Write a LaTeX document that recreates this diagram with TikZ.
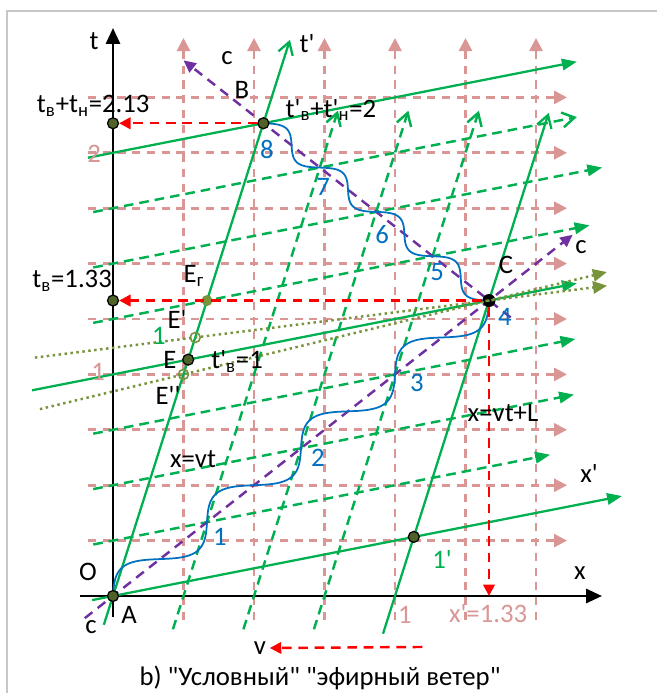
\documentclass[tikz,border=0pt]{standalone}
\usepackage{fontspec}
\newfontfamily\calibri{Carlito}
\usepackage{tikz}
\usetikzlibrary{arrows.meta,calc}
\definecolor{gridPink}{HTML}{D99694}
\definecolor{frameGreen}{HTML}{00B050}
\definecolor{rayPurple}{HTML}{7030A0}
\definecolor{waveBlue}{HTML}{0070C0}
\definecolor{oliveGreen}{HTML}{77933C}
\definecolor{darkOlive}{HTML}{4F6228}
\definecolor{frameGray}{HTML}{C8C8C8}
\tikzstyle{outerframe} = [frameGray, line width=1.1pt]
\tikzstyle{axisline} = [black, line width=1.4pt, -{Triangle[length=9pt,width=8pt]}]
\tikzstyle{gridline} = [gridPink, line width=1.5pt, dash pattern=on 4.6pt off 3.8pt, -{Triangle[length=7.4pt,width=7.4pt]}]
\tikzstyle{solidgreen} = [frameGreen, line width=1.3pt]
\tikzstyle{dashgreen} = [frameGreen, line width=1.4pt, dash pattern=on 5.5pt off 3.4pt]
\tikzstyle{fillhead} = [-{Triangle[length=8.5pt,width=6.5pt]}]
\tikzstyle{openhead} = [-{Straight Barb[length=7pt,width=8.5pt]}]
\tikzstyle{lightray} = [rayPurple, line width=1.4pt, dash pattern=on 5.5pt off 3.8pt, -{Triangle[length=7pt,width=6.5pt]}]
\tikzstyle{photonpath} = [waveBlue, line width=1pt]
\tikzstyle{redarrow} = [red, line width=1.4pt, dash pattern=on 5.5pt off 3.8pt, -{Triangle[length=6.5pt,width=6.5pt]}]
\tikzstyle{sightline} = [oliveGreen, line width=1.4pt, dash pattern=on 1.4pt off 2pt, -{Triangle[length=8pt,width=7pt]}]
\tikzstyle{eventdot} = [circle, minimum size=0.22cm, inner sep=0pt, draw=black, line width=0.7pt, fill=darkOlive]
\tikzstyle{hollowdot} = [circle, minimum size=0.2cm, inner sep=0pt, draw=oliveGreen, line width=0.9pt]
\tikzstyle{olivedot} = [circle, minimum size=0.22cm, inner sep=0pt, fill=oliveGreen]
\tikzstyle{pinklabel} = [text=gridPink]
\tikzstyle{greenlabel} = [text=frameGreen]
\tikzstyle{bluelabel} = [text=waveBlue]

\begin{document}
\begin{tikzpicture}[x=5.64cm, y=4.432cm, every node/.style={font=\calibri\fontsize{15.2}{17}\selectfont, inner sep=0pt}]
\useasboundingbox (-0.4007,-0.4377) rectangle (1.9291,2.6895);
\draw [outerframe] (-0.376,-0.5) -- (-0.376,2.64) -- (2,2.64);

\foreach \gx in {0.25,0.5,...,1.5} \draw [gridline] (\gx,-0.108) -- (\gx,2.518);
\foreach \gt in {0.25,0.5,...,2.25} \draw [gridline] (-0.089,\gt) -- (1.61,\gt);

\draw [axisline] (0,-0.095) -- (0,2.563);
\draw [axisline] (-0.117,0) -- (1.734,0);

\foreach \k/\xe in {0.25/1.55, 0.5/1.635, 0.75/1.64, 1.25/1.69, 1.5/1.735}
  \draw [dashgreen, fillhead] (-0.07,{\k-0.0175}) -- (\xe,{\k+0.25*\xe});
\draw [dashgreen, openhead] (-0.07,1.7325) -- (1.645,2.16125);
\foreach \m in {0.25,0.5,0.75}
  \draw [dashgreen, openhead] ({\m-0.0375},-0.15) -- ({\m+0.5475},2.19);

\coordinate (tPrimeStart) at (-0.0325,-0.13);
\coordinate (tPrimeEnd) at (0.6275,2.51);
\coordinate (xPrimeStart) at (-0.074,-0.0185);
\coordinate (xPrimeEnd) at (1.805,0.451);
\coordinate (lineOneStart) at (-0.287,0.92825);
\coordinate (lineOneEnd) at (1.645,1.41125);
\coordinate (lineTwoStart) at (-0.089,1.97775);
\coordinate (lineTwoEnd) at (1.645,2.41125);
\coordinate (lineLStart) at (0.9575,-0.17);
\coordinate (lineLEnd) at (1.545,2.18);
\draw [solidgreen, openhead] (tPrimeStart) -- (tPrimeEnd);
\draw [solidgreen, fillhead] (xPrimeStart) -- (xPrimeEnd);
\draw [solidgreen, fillhead] (lineOneStart) -- (lineOneEnd);
\draw [solidgreen, fillhead] (lineTwoStart) -- (lineTwoEnd);
\draw [solidgreen, openhead] (lineLStart) -- (lineLEnd);

\coordinate (rayStart) at (-0.1,-0.1);
\coordinate (rayEnd) at (1.63,1.63);
\coordinate (backStart) at (1.41,1.257);
\coordinate (backEnd) at (0.25,2.417);
\draw [lightray] (rayStart) -- (rayEnd);
\draw [lightray] (backStart) -- (backEnd);

\draw [photonpath] plot [domain=0:1.3333, samples=240, variable=\s] ({\s-0.048*sin(1080*\s)}, {\s+0.048*sin(1080*\s)});
\draw [photonpath] plot [domain=0:0.8, samples=160, variable=\s] ({1.3333-\s-0.029*sin(1800*\s)}, {1.3333+\s-0.029*sin(1800*\s)});

\node (pointA) [eventdot] at (0,0) {};
\node (pointB) [eventdot] at (0.5333,2.1333) {};
\node (pointC) [circle, fill=black, minimum size=0.26cm, inner sep=0pt] at (1.3333,1.3333) {};
\node (pointE) [eventdot] at (0.2667,1.0667) {};
\node (pointEp) [hollowdot] at (0.2917,1.1667) {};
\node (pointEpp) [hollowdot] at (0.25,1) {};
\node (pointEr) [olivedot] at (0.3333,1.3333) {};
\node (pointOneX) [eventdot] at (1.0667,0.2667) {};
\node (dotTbTh) [eventdot] at (0,2.1333) {};
\node (dotTb) [eventdot] at (0,1.3333) {};
\coordinate (footC) at (1.3333,0);

\draw [sightline] ($(pointEp)!-0.546!(pointC)$) -- ($(pointEp)!1.402!(pointC)$);
\draw [sightline] ($(pointEpp)!-0.47!(pointC)$) -- ($(pointEpp)!1.386!(pointC)$);

\draw [redarrow] (pointB) -- (dotTbTh);
\draw [redarrow] (pointC) -- (dotTb);
\draw [redarrow] (pointC) -- (footC);

\node (labT) at (-0.067,2.505) {t};
\node (labTPrime) at (0.688,2.491) {t'};
\node (labCTop) at (0.404,2.428) {c};
\node (labB) at (0.457,2.283) {B};
\node (labTbTh) at (-0.07,2.211) {t\textsubscript{в}+t\textsubscript{н}=2.13};
\node (labTbThPrime) at (0.773,2.193) {t'\textsubscript{в}+t'\textsubscript{н}=2};
\node (labTwo) [pinklabel] at (-0.067,1.995) {2};
\node (labTb) at (-0.145,1.421) {t\textsubscript{в}=1.33};
\node (labEr) at (0.287,1.444) {E\textsubscript{г}};
\node (labEp) at (0.227,1.247) {E'};
\node (labOnePrimeT) [greenlabel] at (0.163,1.173) {1};
\node (labE) at (0.202,1.067) {E};
\node (labTbPrime) at (0.44,1.06) {t'\textsubscript{в}=1};
\node (labOne) [pinklabel] at (-0.053,1.011) {1};
\node (labEpp) at (0.195,0.903) {E''};
\node (labXvt) at (0.284,0.618) {x=vt};
\node (labXvtL) at (1.383,0.826) {x=vt+L};
\node (labXPrime) at (1.688,0.555) {x'};
\node (labOneX) [greenlabel] at (1.167,0.167) {1'};
\node (labO) at (-0.089,0.108) {O};
\node (labX) at (1.656,0.104) {x};
\node (labA) at (0.057,-0.086) {A};
\node (labCBottom) at (-0.078,-0.14) {c};
\node (labOneAxis) [pinklabel] at (1.035,-0.086) {1};
\node (labXbar) [pinklabel] at (1.33,-0.081) {x'=1.33};
\node (labC) at (1.394,1.494) {C};
\node (labCRight) at (1.66,1.575) {c};
\foreach \n/\px/\pt in {1/0.379/0.266, 2/0.727/0.623, 3/1.078/0.961, 4/1.39/1.259, 5/1.149/1.462, 6/0.954/1.629, 7/0.745/1.846, 8/0.546/2.013}
  \node (wave\n) [bluelabel] at (\px,\pt) {\n};
\node (labV) [inner sep=2pt] at (0.521,-0.235) {v};
\coordinate (vStart) at (1.097,-0.23);
\draw [redarrow] (vStart) -- (labV);
\node (caption) at (0.734,-0.37) {b) "Условный" "эфирный ветер"};
\end{tikzpicture}
\end{document}
